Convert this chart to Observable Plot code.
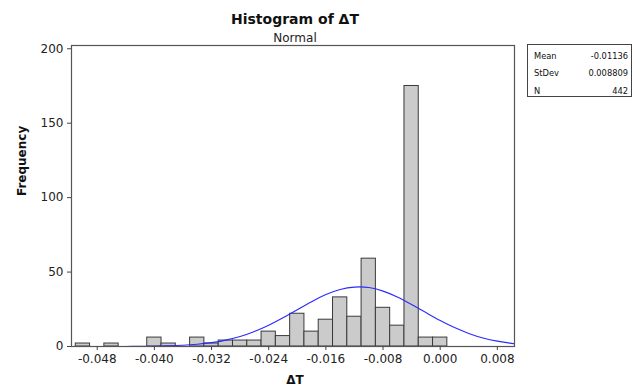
<!DOCTYPE html>
<html>
<head>
<meta charset="utf-8">
<script src="https://cdn.jsdelivr.net/npm/d3@7"></script>
<script src="https://cdn.jsdelivr.net/npm/@observablehq/plot@0.6"></script>
<style>
  html, body { margin: 0; padding: 0; background: #fff; }
  #wrap { position: relative; width: 634px; height: 391px; font-family: "DejaVu Sans", sans-serif; }
  #legend { position: absolute; left: 527px; top: 44px; width: 105px; height: 53px; border: 1px solid #444; box-sizing: border-box; font-size: 8.3px; color: #111; background: #fff; }
  #legend .row { position: absolute; left: 6px; right: 3px; display: flex; justify-content: space-between; line-height: 10px; }
</style>
</head>
<body>
<div id="wrap"></div>
<script>
// Histogram bins (bin midpoints, width 0.002) and counts
const binMid = [-0.050, -0.046, -0.040, -0.038, -0.034, -0.032, -0.030, -0.028, -0.026, -0.024, -0.022, -0.020, -0.018, -0.016, -0.014, -0.012, -0.010, -0.008, -0.006, -0.004, -0.002, 0.000];
const counts = [2, 2, 6, 2, 6, 2, 4, 4, 4, 10, 7, 22, 10, 18, 33, 20, 59, 26, 14, 175, 6, 6];
const binWidth = 0.002;

// Fitted normal curve
const curveX = [-0.044, -0.042, -0.040, -0.038, -0.036, -0.034, -0.032, -0.030, -0.028, -0.026, -0.024, -0.022, -0.020, -0.018, -0.016, -0.014, -0.012, -0.010, -0.008, -0.006, -0.004, -0.002, 0.000, 0.002, 0.004, 0.006, 0.008, 0.010, 0.0104];
const curveY = [0.04, 0.09, 0.2, 0.4, 0.8, 1.5, 2.6, 4.3, 6.7, 10.1, 14.3, 19.3, 24.7, 30.1, 34.9, 38.3, 39.9, 39.6, 37.2, 33.3, 28.2, 22.8, 17.4, 12.7, 8.8, 5.7, 3.6, 2.1, 1.9];

const xTicks = [-0.048, -0.040, -0.032, -0.024, -0.016, -0.008, 0.000, 0.008];
const yTicks = [0, 50, 100, 150, 200];

const statLabels = ["Mean", "StDev", "N"];
const statValues = ["-0.01136", "0.008809", "442"];

const title = "Histogram of \u0394T";
const subtitle = "Normal";
const xLabel = "\u0394T";
const yLabel = "Frequency";

const bars = binMid.map((m, i) => ({x1: m - binWidth / 2, x2: m + binWidth / 2, y: counts[i]}));
const curve = curveX.map((x, i) => ({x, y: curveY[i]}));

const chart = Plot.plot({
  width: 634,
  height: 391,
  marginLeft: 71,
  marginRight: 120,
  marginTop: 45,
  marginBottom: 45,
  style: {fontFamily: "DejaVu Sans, sans-serif", fontSize: "12px", color: "#222", background: "#fff"},
  x: {domain: [-0.0516, 0.0104]},
  y: {domain: [0, 202.2]},
  marks: [
    Plot.rectY(bars, {x1: "x1", x2: "x2", y: "y", fill: "#cbcbcb", stroke: "#3a3a3a", strokeWidth: 1}),
    Plot.line(curve, {x: "x", y: "y", stroke: "#2a2aff", strokeWidth: 1.1, curve: "natural"}),
    Plot.frame({stroke: "#555", strokeWidth: 1.2}),
    Plot.axisX({ticks: xTicks, tickFormat: d => d.toFixed(3), tickSize: 4, tickPadding: 4, label: null, stroke: "#444"}),
    Plot.axisY({ticks: yTicks, tickSize: 4, tickPadding: 4, label: null, stroke: "#444"}),
    Plot.text([title], {frameAnchor: "top", dx: 2, dy: -31, fontSize: 14, fontWeight: "bold", fill: "#111"}),
    Plot.text([subtitle], {frameAnchor: "top", dx: 2, dy: -12, fontSize: 12, fill: "#222"}),
    Plot.text([xLabel], {frameAnchor: "bottom", dx: 2, dy: 37, fontSize: 12, fontWeight: "bold", fill: "#111"}),
    Plot.text([yLabel], {frameAnchor: "left", dx: -49, rotate: -90, fontSize: 12, fontWeight: "bold", fill: "#111"})
  ]
});

const wrap = document.getElementById("wrap");
wrap.appendChild(chart);

const legend = document.createElement("div");
legend.id = "legend";
statLabels.forEach((lab, i) => {
  const row = document.createElement("div");
  row.className = "row";
  row.style.top = (6 + i * 17.3) + "px";
  const a = document.createElement("span");
  a.textContent = lab;
  const b = document.createElement("span");
  b.textContent = statValues[i];
  row.appendChild(a);
  row.appendChild(b);
  legend.appendChild(row);
});
wrap.appendChild(legend);
</script>
</body>
</html>
